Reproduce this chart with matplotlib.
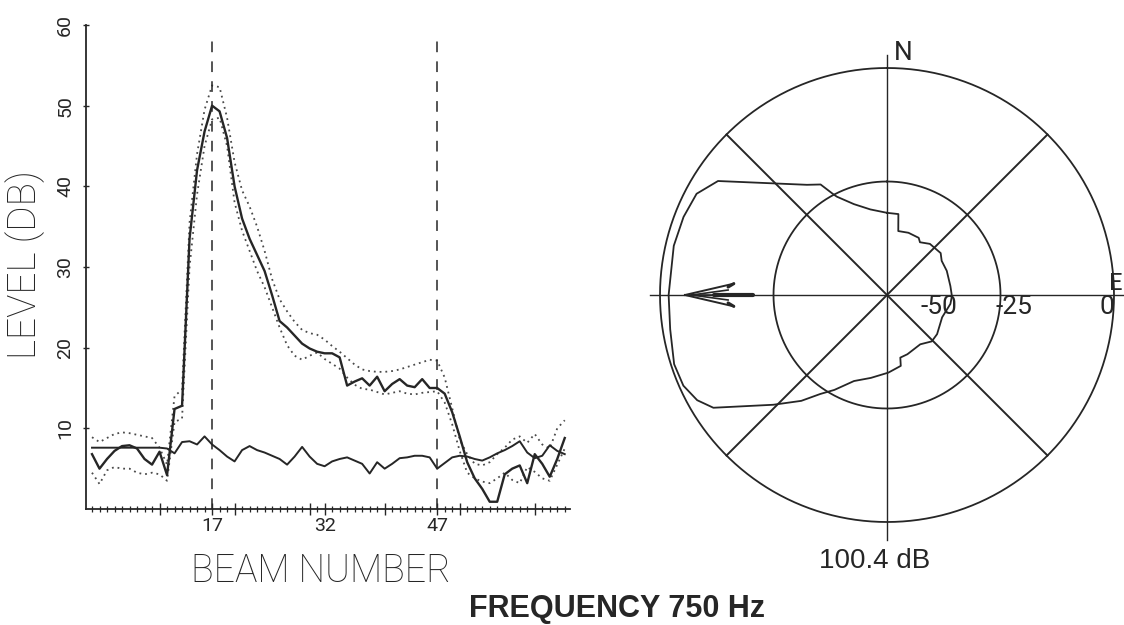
import numpy as np
import matplotlib
matplotlib.use("Agg")
import matplotlib.pyplot as plt

# ---------------- data ----------------
main_level = [6.8, 5.0, 6.2, 7.2, 7.8, 7.9, 7.5, 6.2, 5.5, 7.1, 4.2, 12.4, 12.8, 33.5, 42.0, 46.8,
              50.0, 49.3, 46.0, 40.0, 36.0, 33.5, 31.5, 29.5, 26.5, 23.3, 22.5, 21.5, 20.5, 19.9,
              19.5, 19.3, 19.3, 18.8, 15.3, 15.8, 16.2, 15.3, 16.4, 14.6, 15.5, 16.1, 15.3, 15.1,
              16.1, 15.0, 15.0, 14.3, 12.0, 9.0, 5.8, 3.8, 2.5, 0.9, 0.9, 4.3, 5.0, 5.4, 3.2, 6.8,
              5.6, 4.0, 6.2, 8.8]
upper_level = [8.9, 8.3, 8.8, 9.3, 9.5, 9.4, 9.2, 9.0, 8.8, 7.6, 5.5, 14.0, 14.8, 35.5, 44.0, 49.5,
               52.5, 52.3, 48.5, 43.0, 39.5, 37.5, 35.0, 32.0, 28.5, 26.0, 24.5, 23.2, 22.2, 21.8,
               21.6, 21.0, 20.2, 19.5, 18.7, 17.9, 17.3, 17.1, 17.0, 17.0, 17.1, 17.3, 17.6, 17.9,
               18.2, 18.5, 18.4, 16.3, 12.5, 8.6, 6.8, 5.6, 5.4, 5.8, 6.8, 7.6, 8.6, 9.0, 8.2, 9.3,
               8.0, 7.5, 10.0, 11.0]
lower_level = [4.5, 3.1, 4.8, 5.2, 5.0, 5.0, 4.5, 4.3, 4.5, 4.3, 3.5, 10.8, 11.2, 30.0, 39.0, 45.0,
               48.3, 48.5, 45.0, 38.0, 34.5, 32.0, 29.5, 27.5, 25.0, 22.5, 20.3, 19.0, 18.5, 19.0,
               19.4, 18.6, 18.0, 17.4, 16.3, 15.4, 14.9, 14.8, 14.5, 14.2, 14.4, 14.6, 14.3, 14.2,
               14.4, 14.5, 14.6, 13.2, 10.5, 7.2, 4.5, 3.8, 3.4, 3.2, 3.8, 4.5, 3.6, 3.2, 5.2, 4.6,
               3.8, 3.5, 5.5, 7.5]
noise_level = [7.6, 7.6, 7.6, 7.6, 7.6, 7.6, 7.6, 7.6, 7.6, 7.6, 7.5, 6.9, 8.3, 8.4, 8.0, 9.0,
               8.0, 7.3, 6.5, 5.9, 7.3, 7.8, 7.3, 7.0, 6.6, 6.2, 5.5, 6.5, 7.7, 6.5, 5.6, 5.3,
               5.9, 6.2, 6.4, 6.0, 5.6, 4.4, 5.8, 5.0, 5.6, 6.3, 6.4, 6.6, 6.6, 6.4, 5.0, 5.7,
               6.4, 6.6, 6.5, 6.2, 6.0, 6.4, 6.9, 7.3, 7.8, 8.4, 7.0, 6.3, 6.6, 7.9, 7.2, 6.8]
beams = np.arange(1, len(main_level) + 1)

marked_beams = [17, 47]
xtick_beams = [17, 32, 47]
xtick_labels = ["17", "32", "47"]
xmajor_beams = [10, 17, 20, 30, 32, 40, 47, 50, 60]
ytick_values = [10, 20, 30, 40, 50, 60]
ytick_labels = ["10", "20", "30", "40", "50", "60"]

pattern_bearing = [0, 8, 10, 19, 29, 32, 40, 52, 58, 68, 82, 91, 98, 112, 128, 136, 146, 161,
                   168, 169, 179, 191, 201, 209, 214, 219, 226, 237, 241, 246, 252, 261, 270,
                   283, 291, 298, 304, 316, 324, 329, 332, 333, 340, 349, 360]
pattern_level = [-31.9, -32.0, -35.7, -35.5, -35.6, -36.3, -35.3, -35.0, -35.8, -35.8, -35.9,
                 -35.7, -35.9, -36.9, -36.0, -35.8, -36.9, -36.2, -35.9, -34.1, -32.9, -31.4,
                 -29.7, -26.1, -23.7, -20.0, -15.2, -4.4, -2.2, -0.9, -0.7, -1.65, -1.9, -1.8,
                 -2.0, -2.5, -5.1, -15.9, -20.0, -21.6, -24.9, -25.7, -28.7, -30.8, -31.9]
ring_levels = [-50, -25, 0]
ring_labels = ["-50", "-25", "0"]
max_bearing = 270
total_level_text = "100.4 dB"
title_text = "FREQUENCY 750 Hz"

# ---------------- style ----------------
W, H = 1124, 625
INK = "#262626"
PLOT_FONT = ["Roboto", "DejaVu Sans"]
plt.rcParams["font.family"] = PLOT_FONT

fig = plt.figure(figsize=(W / 100, H / 100), dpi=100)
fig.patch.set_facecolor("white")


def fx(px):
    return px / W


def fy(py):
    return 1 - py / H


# ---------------- left: level vs beam ----------------
ax = fig.add_axes([fx(86), fy(509), fx(570 - 86), (509 - 25) / H])
ax.set_xlim(0.2, 64.7)
ax.set_ylim(0, 60)
for s in ("top", "right"):
    ax.spines[s].set_visible(False)
for s in ("left", "bottom"):
    ax.spines[s].set_linewidth(1.3)
    ax.spines[s].set_color(INK)

ax.plot(beams, upper_level, color="#4a4a4a", lw=1.3, ls=(0, (1, 2.2)))
ax.plot(beams, lower_level, color="#4a4a4a", lw=1.3, ls=(0, (1, 2.2)))
ax.plot(beams, noise_level, color=INK, lw=1.4)
ax.plot(beams, main_level, color=INK, lw=1.7)
ax.vlines(marked_beams, 0, 59, colors=INK, lw=1.1, linestyles=[(0, (7, 6))])

major_labels = [xtick_labels[xtick_beams.index(b)] if b in xtick_beams else "" for b in xmajor_beams]
ax.set_xticks(xmajor_beams, labels=major_labels)
ax.set_xticks(beams, minor=True)
ax.tick_params(axis="x", which="major", direction="inout", length=8, width=1.0, color=INK,
               labelsize=14, pad=2, labelcolor=INK)
ax.tick_params(axis="x", which="minor", direction="inout", length=5, width=0.9, color=INK)
ax.set_yticks(ytick_values, labels=ytick_labels)
ax.tick_params(axis="y", which="major", direction="inout", length=5, width=1.0, color=INK,
               labelsize=14, pad=6, labelrotation=90, labelcolor=INK)
for lab in ax.get_xticklabels() + ax.get_yticklabels():
    lab.set_fontweight("normal")
for lab in ax.get_yticklabels():
    lab.set_verticalalignment("center")

fig.text(fx(321), fy(571), "BEAM NUMBER", ha="center", va="center", fontsize=27,
         fontweight="light", color=INK)
fig.text(fx(25), fy(265), "LEVEL (DB)", ha="center", va="center", rotation=90, fontsize=28,
         fontweight="light", color=INK)

# ---------------- right: directional pattern ----------------
pax = fig.add_axes([fx(640), fy(560), fx(484), 530 / H])
R0 = 887 - 640
pxu = 227.0
pax.set_xlim(-R0 / pxu, (W - 887) / pxu)
pax.set_ylim(-265 / pxu, 265 / pxu)
pax.axis("off")


def to_xy(bearing_deg, level_db):
    b = np.radians(np.asarray(bearing_deg, dtype=float))
    r = (np.asarray(level_db, dtype=float) + 50.0) / 50.0
    return r * np.sin(b), r * np.cos(b)


t = np.linspace(0, 360, 721)
for lvl in ring_levels[1:]:
    cx, cy = to_xy(t, np.full_like(t, lvl))
    pax.plot(cx, cy, color=INK, lw=1.3)

# compass cross and diagonals
pax.plot([0, 0], [-245 / pxu, 240 / pxu], color=INK, lw=1.0)
pax.plot([-237 / pxu, 260 / pxu], [0, 0], color=INK, lw=1.0, clip_on=False)
for b in (45, 135):
    dx, dy = to_xy([b, b + 180], [0, 0])
    pax.plot(dx, dy, color=INK, lw=1.4)

# measured pattern
px_, py_ = to_xy(pattern_bearing, pattern_level)
pax.plot(px_, py_, color=INK, lw=1.3)

# arrow toward maximum bearing
ab = np.radians(max_bearing)
u = np.array([np.sin(ab), np.cos(ab)])
v = np.array([np.cos(ab), -np.sin(ab)])


def arrow_pt(a, c):
    p = a * u + c * v
    return p[0], p[1]


s0 = arrow_pt(0.59, 0); s1 = arrow_pt(0.76, 0); tip = arrow_pt(0.89, 0)
pax.plot([s0[0], s1[0]], [s0[1], s1[1]], color=INK, lw=3.0, solid_capstyle="round")
pax.plot([s1[0], tip[0]], [s1[1], tip[1]], color=INK, lw=1.2)
for sgn in (1, -1):
    b1 = arrow_pt(0.675, sgn * 0.05)
    b2 = arrow_pt(0.70, sgn * 0.022)
    inner = arrow_pt(0.86, 0)
    pax.plot([tip[0], b1[0]], [tip[1], b1[1]], color=INK, lw=1.4)
    pax.plot([inner[0], b2[0]], [inner[1], b2[1]], color=INK, lw=1.2)
    b3 = arrow_pt(0.70, sgn * 0.035)
    pax.plot([b1[0], b3[0]], [b1[1], b3[1]], color=INK, lw=2.2, solid_capstyle="round")

# labels
label_x = [52, 127, 220]
for lx, txt in zip(label_x, ring_labels):
    pax.text(lx / pxu, -11.5 / pxu, txt, ha="center", va="center", fontsize=19,
             fontweight="normal", color=INK)
pax.text(16 / pxu, 242 / pxu, "N", ha="center", va="center", fontsize=19, fontweight="normal",
         color=INK)
pax.text(235.5 / pxu, 12 / pxu, "E", ha="right", va="center", fontsize=17, fontweight="normal",
         color=INK, clip_on=False)

fig.text(fx(875), fy(561), total_level_text, ha="center", va="center", fontsize=20,
         family=["Liberation Sans", "DejaVu Sans"], color=INK)
fig.text(fx(617), fy(609), title_text, ha="center", va="center", fontsize=22,
         fontweight="bold", family=["Liberation Sans", "DejaVu Sans"], color=INK)

fig.savefig("out.png", dpi=100, facecolor="white")
